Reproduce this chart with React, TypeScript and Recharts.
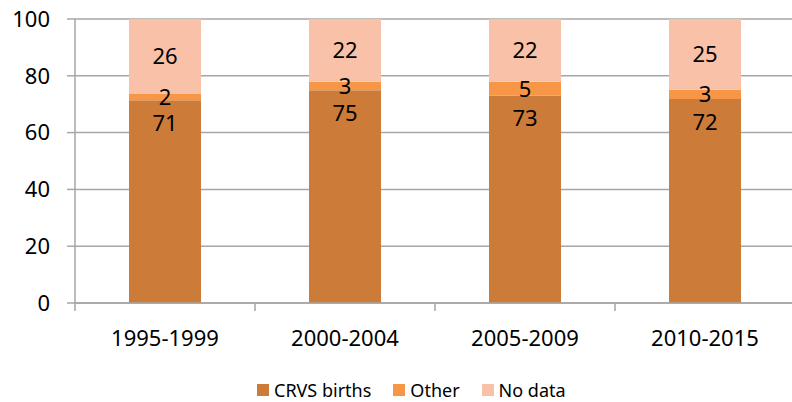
import { BarChart, Bar, XAxis, YAxis, CartesianGrid, LabelList } from "recharts";

const periods = ["1995-1999", "2000-2004", "2005-2009", "2010-2015"];
const crvsBirths = [71.4, 74.9, 73.0, 71.8];
const other = [2.2, 3.0, 4.9, 3.3];
const noData = [26.4, 22.1, 22.1, 24.9];
const yTicks = [0, 20, 40, 60, 80, 100];

const seriesNames = ["CRVS births", "Other", "No data"];
const seriesColors = ["#CC7B38", "#F79646", "#F9C2A8"];

const data = periods.map((p, i) => ({
  period: p,
  crvs: crvsBirths[i],
  other: other[i],
  noData: noData[i],
}));

const FONT = "'Noto Sans', sans-serif";
const GRID = "#A6A6A6";

const fmt = (v: any) => Math.round(Number(v));

// tick marks sit between categories, like the spreadsheet original
const PeriodTick = (props: any) => {
  const { x, y, payload } = props;
  const off = payload && payload.offset ? payload.offset : 0;
  return (
    <g>
      <line x1={x - off} x2={x - off} y1={y} y2={y + 8} stroke={GRID} strokeWidth={1.5} />
      <text x={x} y={y + 43} textAnchor="middle" fontSize={22} fontFamily={FONT} fill="#000">
        {payload.value}
      </text>
    </g>
  );
};

export default function App() {
  const keys = ["crvs", "other", "noData"];
  return (
    <div style={{ position: "absolute", left: 0, top: 0, width: 792, height: 402, overflow: "hidden", background: "#fff", fontFamily: FONT }}>
      <BarChart
        width={800}
        height={402}
        data={data}
        barCategoryGap="30%"
        margin={{ top: 19, right: 5, left: 0, bottom: 39 }}
      >
        <CartesianGrid vertical={false} stroke={GRID} strokeWidth={1.5} />
        <XAxis
          dataKey="period"
          height={60}
          axisLine={{ stroke: GRID, strokeWidth: 1.5 }}
          tickLine={false}
          tickSize={0}
          tickMargin={0}
          interval={0}
          tick={<PeriodTick />}
        />
        <YAxis
          width={75}
          domain={[0, 100]}
          ticks={yTicks}
          axisLine={{ stroke: GRID, strokeWidth: 1.5 }}
          tickLine={{ stroke: GRID, strokeWidth: 1.5 }}
          tickSize={8}
          tickMargin={17}
          tick={{ fontSize: 22, fill: "#000", fontFamily: FONT }}
        />
        {keys.map((k, i) => (
          <Bar key={k} dataKey={k} name={seriesNames[i]} stackId="a" fill={seriesColors[i]} isAnimationActive={false}>
            <LabelList
              dataKey={k}
              position={k === "crvs" ? "insideTop" : "center"}
              offset={k === "crvs" ? 15 : 5}
              formatter={fmt}
              style={{ fontSize: 22, fill: "#000", fontFamily: FONT }}
            />
          </Bar>
        ))}
      </BarChart>
      <div style={{ position: "absolute", left: 257, top: 378, display: "flex", alignItems: "center", fontSize: 18, color: "#000", whiteSpace: "nowrap" }}>
        {seriesNames.map((n, i) => (
          <div key={n} style={{ display: "flex", alignItems: "center", marginRight: 22 }}>
            <span style={{ width: 12, height: 12, background: seriesColors[i], display: "inline-block", marginRight: 5 }} />
            <span>{n}</span>
          </div>
        ))}
      </div>
    </div>
  );
}
